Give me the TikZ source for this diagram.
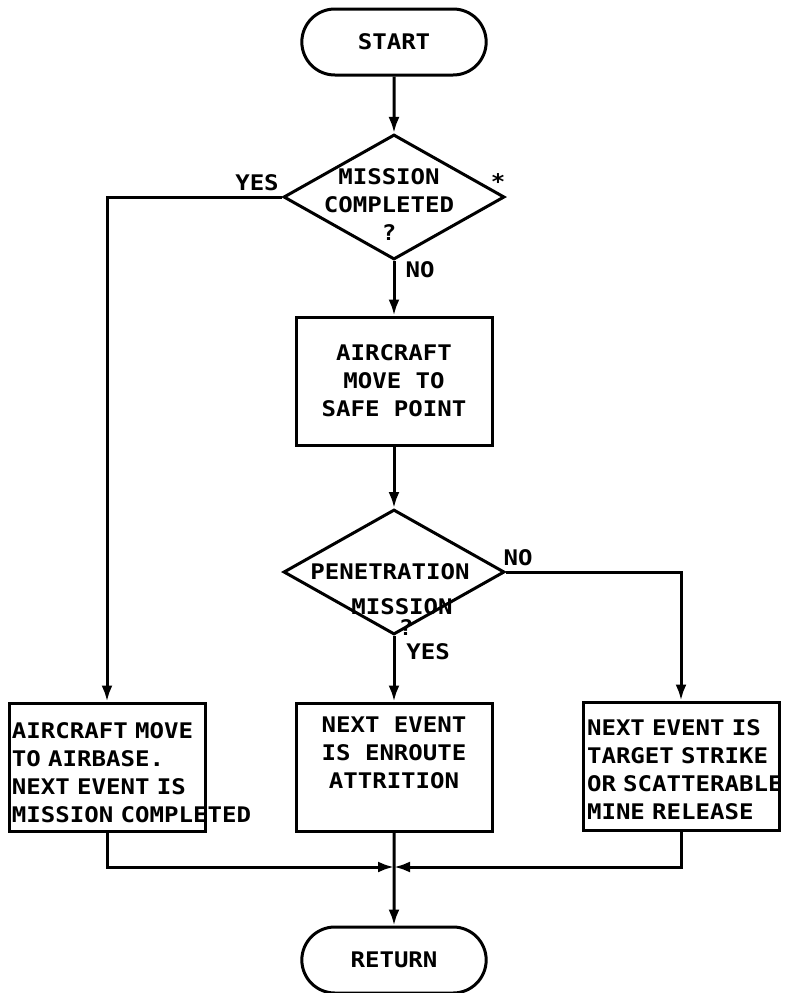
\documentclass[tikz,border=0pt]{standalone}
\usepackage{fontspec}
\setmonofont[FakeStretch=1.12]{DejaVu Sans Mono}
\usetikzlibrary{shapes.geometric,shapes.misc,arrows.meta}

\begin{document}
\begin{tikzpicture}[x=1pt,y=-1pt,line width=3pt,
  every node/.style={font=\ttfamily\bfseries\fontsize{21.5}{28}\selectfont},
  term/.style={draw,rounded rectangle,minimum width=191pt,minimum height=66pt},
  decision/.style={draw,diamond,minimum width=221pt,minimum height=125pt,inner sep=0pt},
  procbox/.style={draw,rectangle,minimum width=196pt,minimum height=128pt,inner sep=0pt},
  flow/.style={-{Latex[length=16pt,width=11pt]}}]
  \useasboundingbox (0,0) rectangle (789,993);
  \node[term] (start) at (394,42) {START};
  \node[decision] (done) at (394,197) {};
  \node[align=center] (donetxt) at (389,205) {MISSION\\COMPLETED\\?};
  \node[procbox,align=center] (safe) at (394,381) {AIRCRAFT\\MOVE TO\\SAFE POINT};
  \node[decision] (pen) at (394,572) {};
  \node[align=center] (pentxt) at (390,600)
    {PENETRATION\\[7pt]\hspace*{24pt}MISSION\\[-7pt]\hspace*{32pt}?};
  \node[procbox,text width=190pt,align=left] (base) at (107,767)
    {\rule{0pt}{28pt}AIRCRAFT MOVE\\TO AIRBASE.\\NEXT EVENT IS\\\mbox{MISSION COMPLETED}};
  \node[procbox,align=center] (enroute) at (394,767) {NEXT EVENT\\IS ENROUTE\\ATTRITION\\[-8pt]\strut};
  \node[procbox,text width=188pt,align=left] (strike) at (681,766)
    {\rule{0pt}{24pt}NEXT EVENT IS\\TARGET STRIKE\\\mbox{OR SCATTERABLE}\\MINE RELEASE};
  \node[term] (ret) at (394,960) {RETURN};
  % branch labels
  \node (yes1) at (257,183) {YES};
  \node (star) at (498,182) {*};
  \node (no1) at (420,270) {NO};
  \node (no2) at (518,558) {NO};
  \node (yes2) at (428,652) {YES};
  \coordinate (join) at (394,867);
  \draw[flow] (start) -- (done);
  \draw[flow] (done.west) -| (base.north);
  \draw[flow] (done.south) -- (safe.north);
  \draw[flow] (safe) -- (pen);
  \draw[flow] (pen.east) -| (strike.north);
  \draw[flow] (pen.south) -- (enroute.north);
  \draw[flow] (base.south) |- (join);
  \draw[flow] (strike.south) |- (join);
  \draw[flow] (enroute) -- (ret);
\end{tikzpicture}
\end{document}
